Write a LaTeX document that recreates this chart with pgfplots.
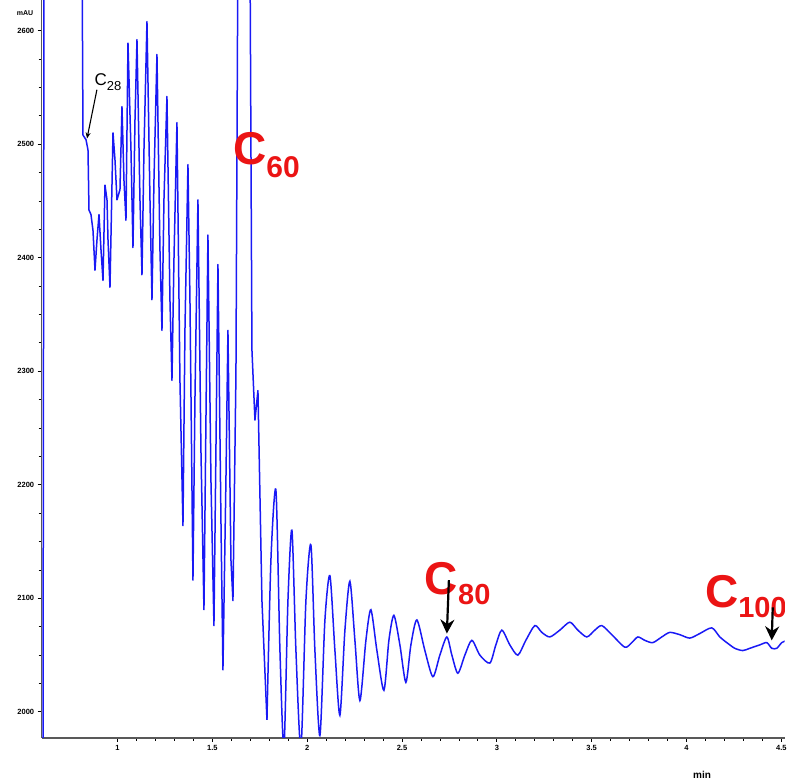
\documentclass[border=0pt]{standalone}
\usepackage{pgfplots}
\pgfplotsset{compat=1.18}
\usepackage{fontspec}
\setmainfont{Liberation Sans}
\usetikzlibrary{arrows.meta}
\definecolor{trace}{RGB}{25,25,245}
\definecolor{cred}{RGB}{235,20,20}
\begin{document}
\begin{tikzpicture}[x=1pt,y=1pt]
\useasboundingbox (0,0) rectangle (787,783);
\begin{axis}[at={(41.7pt,45pt)}, anchor=south west, scale only axis,
 width=743pt, height=738pt,
 xmin=0.6, xmax=4.518, ymin=1977, ymax=2627,
 axis lines=left, axis line style={-, draw=gray!70!black, line width=1.2pt},
 xtick={1,1.5,2,2.5,3,3.5,4,4.5}, xticklabels={1,1.5,2,2.5,3,3.5,4,4.5},
 minor x tick num=4,
 ytick={2000,2100,2200,2300,2400,2500,2600}, minor y tick num=3,
 tick align=outside, major tick length=4pt, minor tick length=3pt,
 tick style={black, line width=0.8pt},
 tick label style={font=\fontsize{7.5}{8}\selectfont\bfseries},
 /pgf/number format/1000 sep={}, /pgf/number format/assume math mode=true,
]
\addplot[trace, line width=1.5pt, line join=round] table[row sep=\\] {
x y \\
0.6016 1975 \\ 0.6069 1975 \\ 0.6122 2680 \\ 0.8124 2680 \\ 0.8177 2508 \\
0.8335 2504 \\ 0.8441 2495 \\ 0.8494 2442 \\ 0.8599 2438 \\ 0.8705 2424 \\
0.8810 2389 \\ 0.8916 2416 \\ 0.9021 2438 \\ 0.9127 2407 \\ 0.9232 2380 \\
0.9337 2464 \\ 0.9443 2451 \\ 0.9496 2416 \\ 0.9601 2374 \\ 0.9760 2510 \\
0.9865 2486 \\ 0.9970 2451 \\ 1.0128 2460 \\ 1.0233 2533 \\ 1.0339 2468 \\
1.0444 2433 \\ 1.0550 2589 \\ 1.0708 2495 \\ 1.0813 2409 \\ 1.0919 2521 \\
1.1024 2592 \\ 1.1182 2451 \\ 1.1288 2385 \\ 1.1393 2495 \\ 1.1551 2608 \\
1.1710 2451 \\ 1.1815 2363 \\ 1.1920 2468 \\ 1.2078 2579 \\ 1.2236 2407 \\
1.2342 2336 \\ 1.2447 2451 \\ 1.2605 2542 \\ 1.2763 2363 \\ 1.2869 2292 \\
1.2974 2398 \\ 1.3132 2519 \\ 1.3290 2292 \\ 1.3449 2164 \\ 1.3554 2336 \\
1.3712 2482 \\ 1.3818 2363 \\ 1.3976 2116 \\ 1.4081 2275 \\ 1.4239 2451 \\
1.4397 2231 \\ 1.4556 2090 \\ 1.4661 2257 \\ 1.4766 2420 \\ 1.4925 2204 \\
1.5083 2076 \\ 1.5188 2231 \\ 1.5294 2394 \\ 1.5452 2169 \\ 1.5557 2037 \\
1.5715 2204 \\ 1.5821 2336 \\ 1.5979 2134 \\ 1.6085 2098 \\ 1.6243 2297 \\
1.6348 2680 \\ 1.6981 2680 \\ 1.7086 2319 \\ 1.7245 2257 \\ 1.7403 2283 \\
1.7614 2098 \\ 1.7878 1993 \\
};
\addplot[trace, line width=1.5pt, smooth, tension=0.45] table[row sep=\\] {
x y \\
1.7878 1993 \\ 1.8088 2134 \\ 1.8352 2195 \\ 1.8563 2054 \\
1.8774 1968 \\ 1.8985 2098 \\ 1.9195 2160 \\ 1.9406 2054 \\ 1.9670 1968 \\
1.9933 2098 \\ 2.0197 2147 \\ 2.0407 2054 \\ 2.0671 1979 \\ 2.0935 2081 \\
2.1198 2120 \\ 2.1462 2054 \\ 2.1725 1997 \\ 2.1989 2072 \\ 2.2252 2115 \\
2.2516 2063 \\ 2.2780 2010 \\ 2.3096 2063 \\ 2.3359 2090 \\ 2.3676 2054 \\
2.4045 2019 \\ 2.4308 2063 \\ 2.4572 2085 \\ 2.4888 2059 \\ 2.5204 2026 \\
2.5468 2059 \\ 2.5784 2081 \\ 2.6206 2054 \\ 2.6627 2031 \\ 2.6996 2050 \\
2.7365 2066 \\ 2.7629 2050 \\ 2.7945 2034 \\ 2.8314 2050 \\ 2.8683 2063 \\
2.9105 2050 \\ 2.9632 2043 \\ 2.9948 2059 \\ 3.0264 2072 \\ 3.0686 2059 \\
3.1108 2050 \\ 3.1529 2063 \\ 3.2004 2076 \\ 3.2373 2070 \\ 3.2794 2066 \\
3.3322 2072 \\ 3.3849 2079 \\ 3.4271 2072 \\ 3.4745 2066 \\ 3.5167 2072 \\
3.5536 2076 \\ 3.6063 2068 \\ 3.6748 2057 \\ 3.7117 2061 \\ 3.7434 2066 \\
3.7803 2063 \\ 3.8224 2061 \\ 3.8699 2066 \\ 3.9121 2070 \\ 3.9648 2068 \\
4.0175 2065 \\ 4.0702 2069 \\ 4.1335 2074 \\ 4.1757 2066 \\ 4.2126 2061 \\
4.2547 2056 \\ 4.2969 2054 \\ 4.3338 2056 \\ 4.3865 2059 \\ 4.4234 2061 \\
4.4498 2056 \\ 4.4761 2056 \\ 4.5025 2061 \\ 4.5288 2063 \\
};
% annotations
\node[anchor=base west, inner sep=0pt, text=cred, font=\bfseries] at (axis cs:1.609,2482)
 {\fontsize{46}{46}\selectfont C\raisebox{-13pt}{\fontsize{30}{30}\selectfont 60}};
\node[anchor=base west, inner sep=0pt, text=cred, font=\bfseries] at (axis cs:2.620,2103)
 {\fontsize{46}{46}\selectfont C\raisebox{-10pt}{\fontsize{29}{29}\selectfont 80}};
\node[anchor=base west, inner sep=0pt, text=cred, font=\bfseries] at (axis cs:4.097,2092)
 {\fontsize{46}{46}\selectfont C\raisebox{-10pt}{\fontsize{29}{29}\selectfont 100}};
\node[anchor=base west, inner sep=0pt, text=black] at (axis cs:0.878,2552)
 {\fontsize{17}{17}\selectfont C\raisebox{-5pt}{\fontsize{13}{13}\selectfont 28}};
\draw[black, line width=1.1pt, -{Stealth[length=6pt,width=5pt]}] (axis cs:0.8912,2548) -- (axis cs:0.8389,2505);
\draw[black, line width=2.2pt, -{Stealth[length=14pt,width=14pt]}] (axis cs:2.7472,2116) -- (axis cs:2.7365,2069);
\draw[black, line width=2.2pt, -{Stealth[length=14pt,width=14pt]}] (axis cs:4.4549,2092) -- (axis cs:4.4496,2063);
\end{axis}
\node[font=\fontsize{7}{8}\selectfont\bfseries] at (25,770) {mAU};
\node[font=\fontsize{10}{10}\selectfont\bfseries] at (702,8) {min};
\end{tikzpicture}
\end{document}
